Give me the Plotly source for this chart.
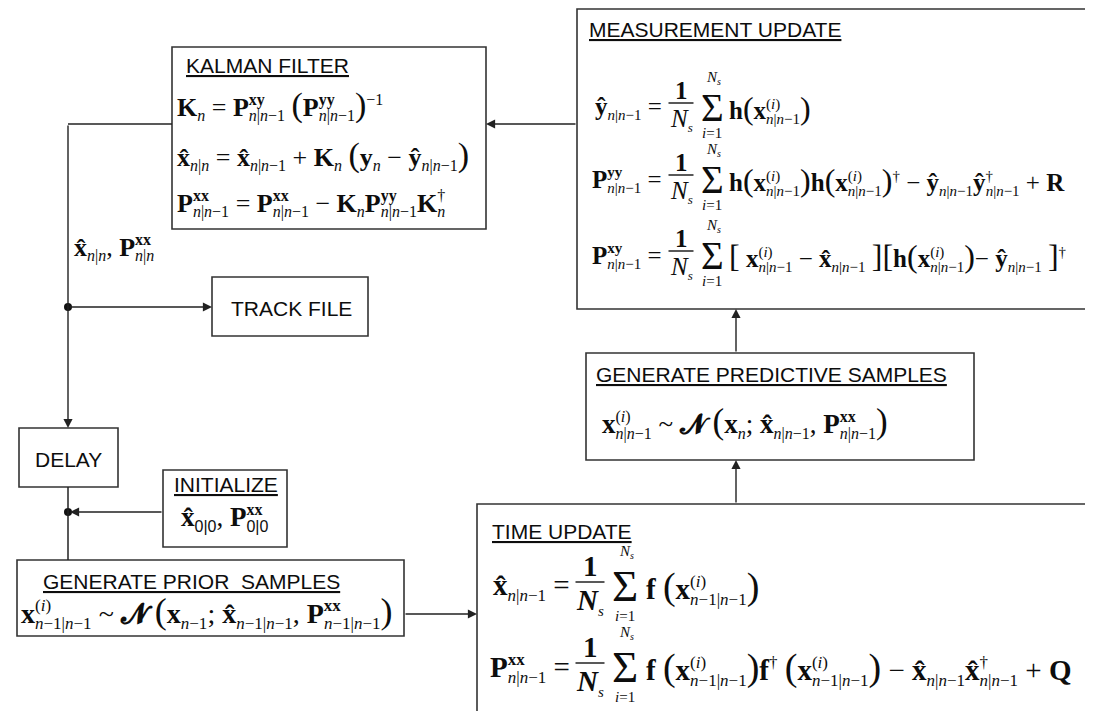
import plotly.graph_objects as go

# ---------------- text content ----------------
box_titles = ["KALMAN FILTER", "MEASUREMENT UPDATE", "GENERATE PREDICTIVE SAMPLES",
              "TIME UPDATE", "GENERATE PRIOR  SAMPLES", "INITIALIZE"]
plain_labels = ["TRACK FILE", "DELAY"]
idx_prev = "n|n-1"          # n|n-1
idx_prior = "n-1|n-1"       # n-1|n-1
idx_post = "n|n"            # n|n
sample_sup = "(i)"

# ---------------- geometry ----------------
W, H = 1093, 711
boxes = {
    "kalman": (164, 39, 478, 221),
    "measure": (569, 1, 1086, 301),
    "track": (204, 269, 360, 328),
    "predict": (578, 345, 966, 452),
    "delay": (11, 420, 110, 479),
    "init": (155, 462, 279, 539),
    "prior": (9, 552, 396, 628),
    "time": (469, 496, 1090, 709),
}
SERIF = "Liberation Serif"
SANS = "Liberation Sans"
INK = "#0d0d0d"
MINUS = "\u2212"
DAG = "\u2020"

MET = {'x': 0.5, 'y': 0.5, '(': 0.333, ')': 0.333, 'i': 0.278, DAG: 0.5}


def B(t):
    return f"<b>{t}</b>"


XB, XH, YH, YB = B("x"), B("x\u0302"), B("\u0177"), B("y")
PB, KB, HB, FB, RB, QB = B("P"), B("K"), B("h"), B("f"), B("R"), B("Q")


def itx(s):
    out = ""
    for c in s:
        if c in "ns":
            out += f"<i>{c}</i>"
        elif c == "-":
            out += MINUS
        else:
            out += c
    return out


def isz(S):
    return round(0.6 * S)


def sub(s, S):
    return f"<sub><span style='font-size:{isz(S)}px'>{itx(s)}</span></sub>"


def sup(s, S):
    return f"<sup><span style='font-size:{isz(S)}px'>{s}</span></sup>"


def sup_html(s):
    if s in ("xx", "xy", "yy"):
        return B(s)
    if s == "(i)":
        return "(<i>i</i>)"
    return s


def stack(sp, sb, S):
    k = isz(S)
    ws = sum(MET[c] for c in sp) * k
    ls = ws + 0.25 * k
    return (f"<sup><span style='font-size:{k}px'>{sup_html(sp)}"
            f"<span style='color:rgba(0,0,0,0);letter-spacing:-{ls:.1f}px'>.</span></span></sup>"
            + sub(sb, S))


def BR(ch, S):
    return f"<span style='font-size:{round(S * 1.3)}px'>{ch}</span>"


SP = " "
annotations = []
shapes = []


def text(x, y, t, size=23, anchor="left", family=SERIF):
    annotations.append(dict(x=x, y=y, xref="x", yref="y", text=t, showarrow=False,
                            xanchor=anchor, yanchor="middle",
                            font=dict(family=family, size=size, color=INK)))


def line(x0, y0, x1, y1, w=1.5):
    shapes.append(dict(type="line", xref="x", yref="y", x0=x0, y0=y0, x1=x1, y1=y1,
                       line=dict(color="#222222", width=w)))


def arrow(x0, y0, x1, y1):
    annotations.append(dict(x=x1, y=y1, ax=x0, ay=y0, xref="x", yref="y", axref="x", ayref="y",
                            text="", showarrow=True, arrowhead=2, arrowsize=1.3,
                            arrowwidth=1.4, arrowcolor="#222222", standoff=0, startstandoff=0))


def frac(xc, y, S, bold_n=False):
    n = "<b><i>N</i></b>" if bold_n else "<i>N</i>"
    text(xc, y - round(S * 0.74), B("1"), size=S, anchor="center")
    line(xc - S * 0.5, y - 5, xc + S * 0.5, y - 5, w=1.5)
    text(xc, y + round(S * 0.5), n + f"<sub><span style='font-size:{isz(S) - 2}px'><i>s</i></span></sub>",
         size=S, anchor="center")


def summ(xc, y, S):
    text(xc, y - 1, "\u03a3", size=round(S * 1.55), anchor="center")
    text(xc + 1, y - round(S * 1.22), f"<i>N</i><sub><span style='font-size:10px'><i>s</i></span></sub>",
         size=15, anchor="center")
    text(xc, y + round(S * 1.0), "<i>i</i>=1", size=15, anchor="center")


# ---------------- boxes ----------------
for k, (x0, y0, x1, y1) in boxes.items():
    shapes.append(dict(type="rect", xref="x", yref="y", x0=x0, y0=y0, x1=x1, y1=y1,
                       line=dict(color="#333333", width=1.6), fillcolor="rgba(0,0,0,0)"))

# ---------------- titles ----------------
TS = 21
text(176, 57, f"<u>{box_titles[0]}</u>", size=TS, family=SANS)
text(579, 21, f"<u>{box_titles[1]}</u>", size=TS, family=SANS)
text(586, 366, f"<u>{box_titles[2]}</u>", size=TS, family=SANS)
text(482, 523, f"<u>{box_titles[3]}</u>", size=TS, family=SANS)
text(33, 573, f"<u>{box_titles[4]}</u>", size=TS, family=SANS)
text(218, 476, f"<u>{box_titles[5]}</u>", size=TS, family=SANS, anchor="center")
text(283, 300, plain_labels[0], size=TS, family=SANS, anchor="center")
text(60, 451, plain_labels[1], size=TS, family=SANS, anchor="center")

# ---------------- Kalman filter ----------------
S = 26
k1 = (KB + sub("n", S) + " = " + PB + stack("xy", idx_prev, S) + SP + BR("(", S) + PB + stack("yy", idx_prev, S)
      + BR(")", S) + sup(f"{MINUS}1", S))
k2 = (XH + sub(idx_post, S) + " = " + XH + sub(idx_prev, S) + " + " + KB + sub("n", S) + SP + BR("(", S)
      + YB + sub("n", S) + " " + MINUS + " " + YH + sub(idx_prev, S) + BR(")", S))
k3 = (PB + stack("xx", idx_prev, S) + " = " + PB + stack("xx", idx_prev, S) + " " + MINUS + " " + KB
      + sub("n", S) + PB + stack("yy", idx_prev, S) + KB + stack(DAG, "n", S))
text(167, 97, k1, S)
text(167, 147, k2, S)
text(167, 196, k3, S)
text(64, 240, XH + sub(idx_post, S) + ", " + PB + stack("xx", idx_post, S), S)

# ---------------- measurement update ----------------
S = 25
xi_prev = XB + stack(sample_sup, idx_prev, S)
m_l = [YH + sub(idx_prev, S) + " =",
       PB + stack("yy", idx_prev, S) + " =",
       PB + stack("xy", idx_prev, S) + " ="]
m_r = [HB + BR("(", S) + xi_prev + BR(")", S),
       HB + BR("(", S) + xi_prev + BR(")", S) + HB + BR("(", S) + xi_prev + BR(")", S) + sup(DAG, S)
       + " " + MINUS + " " + YH + sub(idx_prev, S) + YH + stack(DAG, idx_prev, S) + " + " + RB,
       BR("[", S) + " " + xi_prev + " " + MINUS + " " + XH + sub(idx_prev, S) + " " + BR("]", S)
       + BR("[", S) + HB + BR("(", S) + xi_prev + BR(")", S) + MINUS + " " + YH + sub(idx_prev, S) + " "
       + BR("]", S) + sup(DAG, S)]
for yy, l, r in zip([100, 172, 248], m_l, m_r):
    text(656, yy, l, S, anchor="right")
    frac(673, yy, S)
    summ(704, yy, S)
    text(719, yy, r, S)

# ---------------- time update ----------------
S = 29
xi_prior = XB + stack(sample_sup, idx_prior, S)
t_l = [XH + sub(idx_prev, S) + " =", PB + stack("xx", idx_prev, S) + " ="]
t_r = [FB + SP + BR("(", S) + xi_prior + BR(")", S),
       FB + SP + BR("(", S) + xi_prior + BR(")", S) + FB + sup(DAG, S) + SP + BR("(", S) + xi_prior
       + BR(")", S) + " " + MINUS + " " + XH + sub(idx_prev, S) + XH + stack(DAG, idx_prev, S) + " + " + QB]
for yy, l, r in zip([579, 660], t_l, t_r):
    text(564, yy, l, S, anchor="right")
    frac(582, yy, S, bold_n=True)
    summ(617, yy, S)
    text(636, yy, r, S)

# ---------------- sample generators ----------------
S = 27
CALN = "<b>\U0001D4DD</b>"
ps = (XB + stack(sample_sup, idx_prev, S) + " ~ " + CALN + SP + BR("(", S) + XB + sub("n", S) + "; " + XH
      + sub(idx_prev, S) + ", " + PB + stack("xx", idx_prev, S) + BR(")", S))
text(592, 414, ps, S)
S = 28
pr = (XB + stack(sample_sup, idx_prior, S) + " ~ " + CALN + SP + BR("(", S) + XB + sub("n-1", S) + "; " + XH
      + sub(idx_prior, S) + ", " + PB + stack("xx", idx_prior, S) + BR(")", S))
text(11, 604, pr, S)
S = 27
zz = f"<span style='font-family:Liberation Sans;font-size:{isz(S)}px'>0|0</span>"
init_f = (XH + f"<sub>{zz}</sub>, " + PB + f"<sup><span style='font-size:{isz(S)}px'>{B('xx')}"
          f"<span style='color:rgba(0,0,0,0);letter-spacing:-{1.25 * isz(S):.1f}px'>.</span></span></sup><sub>{zz}</sub>")
text(217, 510, init_f, S, anchor="center")

# ---------------- connectors ----------------
arrow(569, 116, 478, 116)
line(164, 116, 60, 116)
arrow(60, 116, 60, 420)
arrow(60, 299, 204, 299)
line(60, 479, 60, 552)
arrow(155, 504, 62, 504)
arrow(396, 606, 469, 606)
arrow(728, 496, 728, 452)
arrow(728, 345, 728, 301)

dots_x = [60, 60]
dots_y = [299, 504]

fig = go.Figure()
fig.add_trace(go.Scatter(x=dots_x, y=dots_y, mode="markers",
                         marker=dict(size=8, color="#111111"), hoverinfo="skip", showlegend=False))
fig.update_layout(width=W, height=H, margin=dict(l=0, r=0, t=0, b=0),
                  paper_bgcolor="white", plot_bgcolor="white",
                  xaxis=dict(range=[0, W], visible=False, fixedrange=True),
                  yaxis=dict(range=[H, 0], visible=False, fixedrange=True),
                  shapes=shapes, annotations=annotations, showlegend=False)
fig.write_html("out.html")
